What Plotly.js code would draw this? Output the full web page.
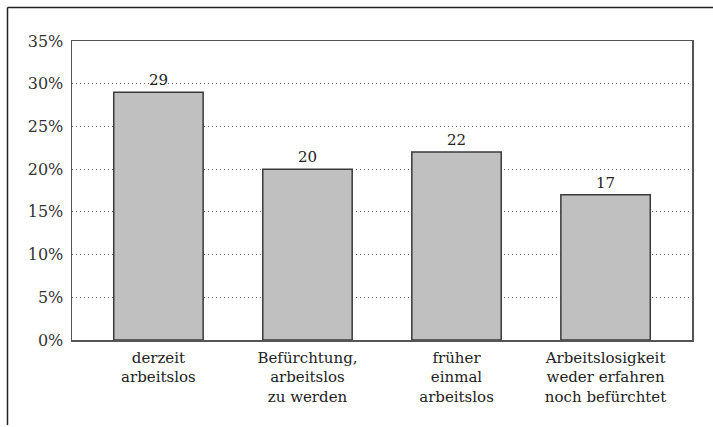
<!DOCTYPE html>
<html>
<head>
<meta charset="utf-8">
<script src="https://cdn.plot.ly/plotly-3.0.1.min.js"></script>
<style>
html,body{margin:0;padding:0;background:#fff;}
#chart{width:713px;height:427px;}
</style>
</head>
<body>
<div id="chart"></div>
<script>
var categories = [
  'derzeit<br>arbeitslos',
  'Befürchtung,<br>arbeitslos<br>zu werden',
  'früher<br>einmal<br>arbeitslos',
  'Arbeitslosigkeit<br>weder erfahren<br>noch befürchtet'
];
var values = [29, 20, 22, 17];
var valueLabels = ['29', '20', '22', '17'];
var yTickVals = [0, 5, 10, 15, 20, 25, 30, 35];
var yTickText = ['0%', '5%', '10%', '15%', '20%', '25%', '30%', '35%'];

var FONT = 'DejaVu Serif, Liberation Serif, serif';

var trace = {
  type: 'bar',
  x: [0, 1, 2, 3],
  y: values,
  width: 0.6,
  text: valueLabels,
  textposition: 'outside',
  cliponaxis: false,
  textfont: {family: FONT, size: 15, color: '#222'},
  marker: {color: '#c0c0c0', line: {color: '#3a3a3a', width: 1.5}},
  hoverinfo: 'none'
};

var layout = {
  width: 713,
  height: 427,
  margin: {l: 72, r: 21, t: 41, b: 87, pad: 0},
  paper_bgcolor: '#fff',
  plot_bgcolor: '#fff',
  showlegend: false,
  font: {family: FONT, size: 15, color: '#222'},
  xaxis: {
    range: [-0.58, 3.58],
    tickvals: [0, 1, 2, 3],
    ticktext: categories,
    ticks: '',
    ticklabelstandoff: 3,
    showgrid: false,
    zeroline: false,
    showline: true,
    linecolor: '#555',
    linewidth: 1.5,
    mirror: true,
    tickfont: {family: FONT, size: 15, color: '#222'},
    fixedrange: true
  },
  yaxis: {
    range: [0, 35],
    tickvals: yTickVals,
    ticktext: yTickText,
    ticks: '',
    ticklabelstandoff: 4,
    showgrid: true,
    gridcolor: '#666',
    gridwidth: 1,
    griddash: '1px,3px',
    zeroline: false,
    showline: true,
    linecolor: '#555',
    linewidth: 1.5,
    mirror: true,
    tickfont: {family: FONT, size: 16, color: '#333'},
    fixedrange: true
  },
  shapes: [
    {type: 'line', xref: 'paper', yref: 'paper',
     x0: (7.5 - 72) / 620, x1: (713 - 72) / 620,
     y0: (340 - 7.5) / 299, y1: (340 - 7.5) / 299,
     line: {color: '#222', width: 1.5}},
    {type: 'line', xref: 'paper', yref: 'paper',
     x0: (7.5 - 72) / 620, x1: (7.5 - 72) / 620,
     y0: (340 - 7.5) / 299, y1: (340 - 425) / 299,
     line: {color: '#222', width: 1.5}}
  ]
};

Plotly.newPlot('chart', [trace], layout, {staticPlot: true, displayModeBar: false});
</script>
</body>
</html>
